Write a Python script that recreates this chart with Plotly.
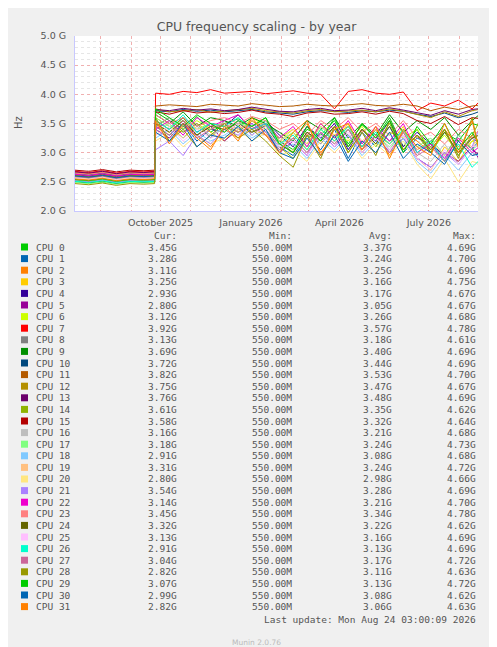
import plotly.graph_objects as go

# sample dates (about every two weeks, with the jump in late September)
dates = ['2025-07-06', '2025-07-20', '2025-08-03', '2025-08-17', '2025-08-31', '2025-09-14', '2025-09-25',
         '2025-09-26', '2025-10-10', '2025-10-24', '2025-11-07', '2025-11-21', '2025-12-05', '2025-12-19',
         '2026-01-02', '2026-01-16', '2026-01-30', '2026-02-13', '2026-02-27', '2026-03-13', '2026-03-27',
         '2026-04-10', '2026-04-24', '2026-05-08', '2026-05-22', '2026-06-05', '2026-06-19', '2026-07-03',
         '2026-07-17', '2026-07-31', '2026-08-14', '2026-08-24']

colors = ['#00CC00', '#0066B3', '#FF8000', '#FFCC00', '#330099', '#990099', '#CCFF00', '#FF0000',
          '#808080', '#008F00', '#00487D', '#B35A00', '#B38F00', '#6B006B', '#8FB300', '#B30000',
          '#BEBEBE', '#80FF80', '#80C9FF', '#FFC080', '#FFE680', '#AA80FF', '#EE00CC', '#FF8080',
          '#666600', '#FFBFFF', '#00FFCC', '#CC6699', '#999900', '#00CC00', '#0066B3', '#FF8000']

# frequencies in GHz
freq = [
 [2.52,2.48,2.50,2.47,2.51,2.49,2.50, 3.70,3.55,3.40,3.62,3.35, 3.50,3.58,3.45,3.60,3.20, 3.05,3.40,3.30,3.55,3.15, 3.48,3.25,3.60,3.10,3.40, 3.00,3.35,3.20,3.50,3.45],
 [2.58,2.55,2.57,2.54,2.56,2.55,2.56, 3.45,3.30,3.50,3.20,3.40, 3.35,3.55,3.30,3.48,3.10, 2.95,3.30,3.05,3.40,2.90, 3.35,3.10,3.45,3.00,3.25, 3.15,2.85,3.30,3.05,3.28],
 [2.55,2.53,2.56,2.52,2.55,2.54,2.55, 3.50,3.20,3.45,3.30,3.10, 3.40,3.25,3.55,3.35,3.05, 3.25,3.50,3.00,3.30,3.45, 3.10,3.40,2.95,3.35,3.20, 3.00,3.40,3.10,3.30,3.11],
 [2.60,2.58,2.61,2.57,2.60,2.59,2.60, 3.30,3.45,3.25,3.50,3.35, 3.20,3.45,3.40,3.30,3.15, 3.35,3.05,3.40,3.20,3.50, 3.00,3.30,3.15,3.45,2.90, 2.70,3.10,2.85,3.20,3.25],
 [2.62,2.60,2.63,2.59,2.62,2.61,2.62, 3.55,3.40,3.60,3.35,3.50, 3.45,3.65,3.40,3.55,3.30, 3.10,3.45,3.25,3.50,3.05, 3.40,3.20,3.55,3.10,3.35, 3.15,2.95,3.30,3.05,2.93],
 [2.57,2.55,2.58,2.54,2.57,2.56,2.57, 3.40,3.25,3.50,3.30,3.45, 3.20,3.40,3.50,3.35,3.00, 3.20,2.95,3.35,3.10,3.40, 3.05,3.30,3.00,3.25,2.90, 2.75,3.00,2.85,3.10,2.80],
 [2.59,2.57,2.60,2.56,2.59,2.58,2.59, 3.60,3.45,3.35,3.55,3.40, 3.50,3.35,3.60,3.45,3.25, 3.40,3.15,3.50,3.30,3.20, 3.45,3.10,3.35,3.25,3.40, 3.05,3.30,3.00,3.20,3.12],
 [2.68,2.66,2.69,2.65,2.68,2.67,2.68, 4.02,4.00,4.05,4.03,4.08, 4.02,4.04,4.05,4.01,4.03, 4.06,4.02,4.00,3.75,4.05, 4.08,4.02,4.00,4.04,3.72, 3.85,3.80,3.90,3.75,3.92],
 [2.56,2.54,2.57,2.53,2.56,2.55,2.56, 3.45,3.60,3.35,3.50,3.25, 3.55,3.40,3.35,3.50,3.20, 3.00,3.35,3.15,3.45,3.30, 3.10,3.40,3.20,3.35,3.05, 3.20,3.40,2.95,3.25,3.13],
 [2.50,2.48,2.51,2.47,2.50,2.49,2.50, 3.65,3.50,3.70,3.45,3.60, 3.55,3.45,3.60,3.50,3.35, 3.20,3.55,3.40,3.60,3.25, 3.50,3.30,3.65,3.35,3.55, 3.40,3.60,3.30,3.55,3.69],
 [2.64,2.62,2.65,2.61,2.64,2.63,2.64, 3.72,3.70,3.74,3.71,3.73, 3.70,3.72,3.74,3.70,3.68, 3.66,3.70,3.72,3.71,3.69, 3.72,3.70,3.73,3.71,3.66, 3.62,3.68,3.60,3.66,3.72],
 [2.66,2.64,2.67,2.63,2.66,2.65,2.66, 3.80,3.82,3.81,3.79,3.83, 3.81,3.80,3.84,3.82,3.79, 3.80,3.83,3.81,3.80,3.82, 3.84,3.81,3.80,3.83,3.80, 3.72,3.78,3.74,3.80,3.82],
 [2.61,2.59,2.62,2.58,2.61,2.60,2.61, 3.75,3.70,3.72,3.74,3.69, 3.71,3.73,3.76,3.72,3.70, 3.68,3.72,3.74,3.70,3.71, 3.73,3.70,3.75,3.71,3.65, 3.60,3.70,3.62,3.72,3.75],
 [2.67,2.65,2.68,2.64,2.67,2.66,2.67, 3.74,3.72,3.76,3.73,3.75, 3.72,3.74,3.78,3.74,3.71, 3.70,3.74,3.76,3.72,3.73, 3.76,3.72,3.77,3.73,3.68, 3.64,3.72,3.66,3.74,3.76],
 [2.53,2.51,2.54,2.50,2.53,2.52,2.53, 3.55,3.40,3.60,3.30,3.50, 3.45,3.35,3.55,3.40,3.10, 2.90,3.30,3.20,3.45,3.00, 3.40,3.15,3.50,3.05,3.30, 3.10,3.40,2.95,3.30,3.61],
 [2.70,2.68,2.71,2.67,2.70,2.69,2.70, 3.70,3.66,3.72,3.68,3.70, 3.67,3.69,3.73,3.68,3.66, 3.62,3.68,3.70,3.66,3.67, 3.70,3.66,3.71,3.67,3.55, 3.50,3.62,3.48,3.60,3.58],
 [2.54,2.52,2.55,2.51,2.54,2.53,2.54, 3.35,3.50,3.25,3.45,3.30, 3.40,3.55,3.35,3.45,3.15, 3.25,3.00,3.35,3.15,3.40, 3.05,3.30,3.10,3.35,3.00, 2.85,3.15,2.80,3.10,3.16],
 [2.49,2.47,2.50,2.46,2.49,2.48,2.49, 3.60,3.45,3.55,3.40,3.50, 3.35,3.50,3.45,3.55,3.20, 3.35,3.10,3.45,3.25,3.40, 3.15,3.35,3.05,3.40,3.10, 3.25,2.95,3.30,3.05,3.18],
 [2.58,2.56,2.59,2.55,2.58,2.57,2.58, 3.25,3.40,3.15,3.35,3.20, 3.30,3.45,3.25,3.40,3.05, 3.15,2.90,3.25,3.05,3.30, 2.95,3.20,3.00,3.25,2.85, 2.65,2.95,2.70,3.00,2.91],
 [2.55,2.53,2.56,2.52,2.55,2.54,2.55, 3.50,3.35,3.55,3.40,3.45, 3.50,3.40,3.55,3.45,3.20, 3.40,3.15,3.45,3.30,3.50, 3.20,3.40,3.15,3.35,3.05, 3.20,2.95,3.25,3.10,3.31],
 [2.57,2.55,2.58,2.54,2.57,2.56,2.57, 3.20,3.35,3.10,3.30,3.15, 3.25,3.40,3.20,3.35,2.95, 3.05,2.85,3.20,3.00,3.25, 2.90,3.15,2.95,3.20,2.80, 2.55,2.90,2.50,2.85,2.80],
 [2.52,2.50,2.53,2.49,2.52,2.51,2.52, 3.05,3.20,2.95,3.30,3.15, 3.40,3.30,3.50,3.35,3.10, 3.20,2.95,3.35,3.10,3.30, 3.00,3.25,3.05,3.30,2.90, 2.75,3.00,2.80,3.10,3.54],
 [2.63,2.61,2.64,2.60,2.63,2.62,2.63, 3.40,3.55,3.30,3.60,3.45, 3.55,3.65,3.40,3.50,3.25, 3.45,3.10,3.50,3.25,3.55, 3.15,3.45,3.20,3.50,3.00, 3.15,2.90,3.25,3.00,3.14],
 [2.65,2.63,2.66,2.62,2.65,2.64,2.65, 3.65,3.50,3.60,3.45,3.55, 3.60,3.50,3.62,3.55,3.40, 3.50,3.30,3.55,3.40,3.60, 3.35,3.50,3.30,3.55,3.25, 3.35,3.15,3.40,3.25,3.45],
 [2.60,2.58,2.61,2.57,2.60,2.59,2.60, 3.50,3.35,3.55,3.30,3.45, 3.40,3.50,3.35,3.45,3.15, 3.00,3.35,3.20,3.45,3.10, 3.40,3.15,3.45,3.05,3.30, 3.05,3.35,3.00,3.25,3.32],
 [2.56,2.54,2.57,2.53,2.56,2.55,2.56, 3.30,3.45,3.20,3.40,3.25, 3.35,3.50,3.30,3.45,3.10, 3.20,2.95,3.30,3.10,3.35, 3.00,3.25,3.05,3.30,2.90, 2.70,3.05,2.80,3.10,3.13],
 [2.51,2.49,2.52,2.48,2.51,2.50,2.51, 3.55,3.40,3.65,3.35,3.50, 3.45,3.60,3.40,3.50,3.15, 3.30,3.05,3.40,3.20,3.45, 3.10,3.35,3.15,3.40,3.00, 3.20,2.85,3.15,2.75,2.91],
 [2.59,2.57,2.60,2.56,2.59,2.58,2.59, 3.45,3.30,3.55,3.25,3.40, 3.50,3.35,3.45,3.30,3.05, 3.25,3.00,3.35,3.15,3.40, 3.05,3.30,3.00,3.35,2.95, 3.10,2.85,3.20,2.95,3.04],
 [2.47,2.45,2.48,2.44,2.47,2.46,2.47, 3.60,3.20,3.40,3.10,3.30, 3.50,3.25,3.40,3.20,2.95, 2.75,3.30,2.90,3.45,3.00, 3.35,2.95,3.55,3.05,3.30, 3.00,3.40,2.90,3.60,2.82],
 [2.54,2.52,2.55,2.51,2.54,2.53,2.54, 3.75,3.60,3.45,3.65,3.50, 3.35,3.55,3.45,3.60,3.15, 3.00,3.45,3.20,3.60,3.10, 3.50,3.25,3.55,3.00,3.45, 3.15,3.50,3.05,3.35,3.07],
 [2.60,2.58,2.61,2.57,2.60,2.59,2.60, 3.35,3.20,3.50,3.10,3.30, 3.25,3.45,3.20,3.40,3.00, 2.90,3.25,2.95,3.30,2.85, 3.20,3.00,3.35,2.90,3.15, 3.00,2.80,3.20,2.95,2.99],
 [2.55,2.53,2.56,2.52,2.55,2.54,2.55, 3.55,3.15,3.50,3.25,3.05, 3.45,3.20,3.60,3.30,3.00, 3.35,3.55,2.95,3.40,3.50, 3.05,3.45,2.90,3.40,3.10, 2.95,3.50,3.00,3.55,2.82],
]

cur = ['3.45G','3.28G','3.11G','3.25G','2.93G','2.80G','3.12G','3.92G','3.13G','3.69G','3.72G','3.82G',
       '3.75G','3.76G','3.61G','3.58G','3.16G','3.18G','2.91G','3.31G','2.80G','3.54G','3.14G','3.45G',
       '3.32G','3.13G','2.91G','3.04G','2.82G','3.07G','2.99G','2.82G']
avg = ['3.37G','3.24G','3.25G','3.16G','3.17G','3.05G','3.26G','3.57G','3.18G','3.40G','3.44G','3.53G',
       '3.47G','3.48G','3.35G','3.32G','3.21G','3.24G','3.08G','3.24G','2.98G','3.28G','3.21G','3.34G',
       '3.22G','3.16G','3.13G','3.17G','3.11G','3.13G','3.08G','3.06G']
mx = ['4.69G','4.70G','4.69G','4.75G','4.67G','4.67G','4.68G','4.78G','4.61G','4.69G','4.69G','4.70G',
      '4.67G','4.69G','4.62G','4.64G','4.68G','4.73G','4.68G','4.72G','4.66G','4.69G','4.70G','4.78G',
      '4.62G','4.69G','4.69G','4.72G','4.63G','4.72G','4.62G','4.63G']
mn = '550.00M'

ytick_vals = [2.0, 2.5, 3.0, 3.5, 4.0, 4.5, 5.0]
xtick_vals = ['2025-10-01', '2026-01-01', '2026-04-01', '2026-07-01']
xtick_text = ['October 2025', 'January 2026', 'April 2026', 'July 2026']

fig = go.Figure()
for i, vals in enumerate(freq):
    fig.add_trace(go.Scatter(x=dates, y=[v * 1e9 for v in vals], mode='lines',
                             line=dict(color=colors[i], width=1), name='CPU %d' % i))

mono = 'DejaVu Sans Mono'
txt = '#555555'
W, H = 497, 647

# paper coords are relative to plot area; convert via margins
L, R, T, B = 67, 27, 28, 444
pw, ph = W - L - R, H - T - B
def ann(x, y, text, anchor='left', size=9.5, color=txt, family=mono, angle=0):
    fig.add_annotation(x=(x - L) / pw, y=(H - B - y) / ph, xref='paper', yref='paper', text=text,
                       showarrow=False, xanchor=anchor, yanchor='middle', textangle=angle,
                       font=dict(family=family, size=size, color=color))

ann(171, 227, 'Cur:', 'right')
ann(286, 227, 'Min:', 'right')
ann(386, 227, 'Avg:', 'right')
ann(470, 227, 'Max:', 'right')
for i in range(32):
    y = 239 + i * 11.6
    fig.add_shape(type='rect', xref='paper', yref='paper',
                  x0=(13 - L) / pw, x1=(20 - L) / pw, y0=(H - B - y - 3.5) / ph, y1=(H - B - y + 3.5) / ph,
                  fillcolor=colors[i], line=dict(width=0))
    ann(26, y, 'CPU %d' % i)
    ann(171, y, cur[i], 'right')
    ann(286, y, mn, 'right')
    ann(386, y, avg[i], 'right')
    ann(470, y, mx[i], 'right')
ann(470, 611, 'Last update: Mon Aug 24 03:00:09 2026', 'right')
ann(248, 634, 'Munin 2.0.76', 'center', size=7.5, color='#BBBBBB', family='DejaVu Sans')
ann(486, 60, 'RRDTOOL / TOBI OETIKER', 'center', size=7, color='#BBBBBB', family='DejaVu Sans', angle=90)
ann(10, 115, 'Hz', 'center', size=10, family='DejaVu Sans', angle=-90)

fig.update_layout(
    width=W, height=H, margin=dict(l=L, r=R, t=T, b=B),
    paper_bgcolor='#F0F0F0', plot_bgcolor='#FFFFFF', showlegend=False,
    title=dict(text='CPU frequency scaling - by year', x=0.5, xanchor='center', y=1 - 19 / H, yanchor='middle',
               font=dict(family='DejaVu Sans', size=12.5, color='#555555')),
    font=dict(family='DejaVu Sans', size=9.5, color=txt),
)
fig.update_xaxes(range=['2025-07-06', '2026-08-20'], tickvals=xtick_vals, ticktext=xtick_text,
                 showgrid=True, gridcolor='#F0B0B0', griddash='dot', gridwidth=1,
                 minor=dict(dtick='M1', tick0='2025-07-01', showgrid=True, gridcolor='#F0B0B0', griddash='dot'),
                 showline=True, linecolor='#C8C8FF', zeroline=False, ticks='', tickfont=dict(size=9.5),
                 ticklabelstandoff=3)
fig.update_yaxes(range=[2e9, 5e9], tickvals=[v * 1e9 for v in ytick_vals],
                 ticktext=['%.1f G' % v for v in ytick_vals],
                 showgrid=True, gridcolor='#F0B0B0', griddash='dot', gridwidth=1,
                 minor=dict(dtick=1e8, showgrid=True, gridcolor='#E6E6E6', griddash='dot'),
                 showline=True, linecolor='#C8C8FF', zeroline=False, ticks='', tickfont=dict(size=9.5),
                 ticklabelstandoff=6)

fig.write_html('out.html')
